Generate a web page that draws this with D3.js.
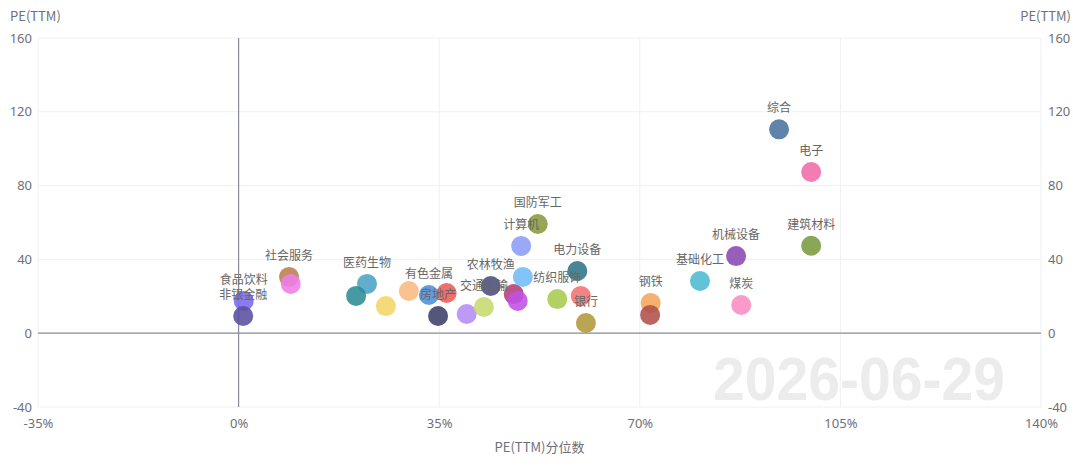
<!DOCTYPE html>
<html>
<head>
<meta charset="utf-8">
<script src="https://cdn.jsdelivr.net/npm/d3@7"></script>
<style>
  body { margin: 0; background: #fff; }
  svg { display: block; font-family: "Noto Sans CJK SC", "Noto Sans", sans-serif; }
</style>
</head>
<body>
<svg id="chart" width="1073" height="475"></svg>
<script>
// Industry points: PE(TTM) percentile (%) vs PE(TTM)
const industries = ['食品饮料', '非银金融', '社会服务', '美容护理', '医药生物', '公用事业', '轻工制造', '家用电器',
    '有色金属', '汽车', '房地产', '传媒', '交通运输', '农林牧渔', '商贸零售', '通信', '环保', '计算机',
    '国防军工', '纺织服饰', '电力设备', '建筑装饰', '银行', '钢铁', '石油石化', '基础化工', '机械设备',
    '煤炭', '综合', '电子', '建筑材料'];
const percentiles = [0.9, 0.8, 8.8, 9.1, 22.4, 20.5, 25.7, 29.7,
    33.2, 36.3, 34.8, 39.8, 42.8, 44.0, 48.0, 48.7, 49.6, 49.3,
    52.2, 55.6, 59.1, 59.7, 60.6, 71.9, 71.8, 80.5, 86.8,
    87.7, 94.3, 99.9, 99.9];
const peValues = [17.5, 9.3, 30.5, 26.7, 26.7, 20.2, 14.7, 22.9,
    20.7, 21.8, 9.3, 10.4, 14.2, 25.6, 21.2, 17.5, 30.5, 47.3,
    59.2, 18.5, 33.7, 20.2, 5.5, 16.4, 9.9, 28.3, 41.8,
    15.3, 110.5, 87.4, 47.4];
// labels that stay visible (the rest are hidden by overlap)
const labelled = ['食品饮料', '非银金融', '社会服务', '医药生物', '有色金属', '房地产', '交通运输', '农林牧渔',
    '计算机', '国防军工', '纺织服饰', '电力设备', '银行', '钢铁', '基础化工', '机械设备', '煤炭', '综合',
    '电子', '建筑材料'];
const colors = ['#7b68ee', '#5a4ea0', '#b8804a', '#f07ce8', '#4aa3c4', '#2e8b95', '#f2d565', '#f9b97e',
    '#4b8fd8', '#ee5a5a', '#3d3f6a', '#b38cf4', '#c6da6e', '#4a4c80', '#b03f78', '#c150e6', '#6fbcf7',
    '#8b9cf8', '#8a9a3f', '#a8c94e', '#2f7487', '#f47272', '#b09a3a', '#f5a65a', '#b0504c', '#4cbad2',
    '#8a48b0', '#f88cc0', '#4a72a0', '#f06aaa', '#7a9a40'];

const xTicks = [-35, 0, 35, 70, 105, 140];
const yTicks = [-40, 0, 40, 80, 120, 160];
const watermark = '2026-06-29';

const svg = d3.select('#chart');
const width = 1073, height = 475;
const margin = { top: 38, right: 32, bottom: 68, left: 38 };

const x = d3.scaleLinear().domain([-35, 140]).range([margin.left, width - margin.right]);
const y = d3.scaleLinear().domain([-40, 160]).range([height - margin.bottom, margin.top]);

// Watermark date
svg.append('text')
    .attr('x', 713)
    .attr('y', 400)
    .attr('textLength', 292)
    .attr('lengthAdjust', 'spacingAndGlyphs')
    .style('font-family', '"Liberation Sans", Arial, sans-serif')
    .style('font-weight', 'bold')
    .style('font-size', '62px')
    .style('fill', '#ececec')
    .text(watermark);

// Grid lines
svg.append('g')
    .selectAll('line')
    .data(yTicks)
    .enter().append('line')
    .attr('x1', x(-35)).attr('x2', x(140))
    .attr('y1', d => y(d)).attr('y2', d => y(d))
    .attr('stroke', '#eef0f4');

svg.append('g')
    .selectAll('line')
    .data(xTicks.filter(d => d !== 0))
    .enter().append('line')
    .attr('x1', d => x(d)).attr('x2', d => x(d))
    .attr('y1', y(-40)).attr('y2', y(160))
    .attr('stroke', '#eef0f4');

// Zero lines
svg.append('line')
    .attr('x1', x(-35)).attr('x2', x(140))
    .attr('y1', y(0)).attr('y2', y(0))
    .attr('stroke', '#8a8c99').attr('stroke-width', 1.2);
svg.append('line')
    .attr('x1', x(0)).attr('x2', x(0))
    .attr('y1', y(-40)).attr('y2', y(160))
    .attr('stroke', '#8a8c99').attr('stroke-width', 1.2);

// Axes (labels only), plain hyphen for negatives
const xAxis = svg.append('g')
    .attr('transform', `translate(0,${y(-40)})`)
    .call(d3.axisBottom(x).tickValues(xTicks).tickSize(0).tickPadding(12).tickFormat(d => String(d) + '%'));
const yLeft = svg.append('g')
    .attr('transform', `translate(${margin.left},0)`)
    .call(d3.axisLeft(y).tickValues(yTicks).tickSize(0).tickPadding(6).tickFormat(d => String(d)));
const yRight = svg.append('g')
    .attr('transform', `translate(${width - margin.right},0)`)
    .call(d3.axisRight(y).tickValues(yTicks).tickSize(0).tickPadding(7).tickFormat(d => String(d)));

[xAxis, yLeft, yRight].forEach(g => {
    g.select('.domain').remove();
    g.selectAll('text')
        .style('font-family', '"Noto Sans", sans-serif')
        .style('font-size', '13px')
        .style('fill', '#6e7079');
});

// Axis names
svg.append('text')
    .attr('x', 10).attr('y', 21)
    .style('font-size', '13px').style('fill', '#6e7079')
    .text('PE(TTM)');
svg.append('text')
    .attr('x', width - 2).attr('y', 21)
    .attr('text-anchor', 'end')
    .style('font-size', '13px').style('fill', '#6e7079')
    .text('PE(TTM)');
svg.append('text')
    .attr('x', (x(-35) + x(140)) / 2).attr('y', 452)
    .attr('text-anchor', 'middle')
    .style('font-size', '13px').style('fill', '#6e7079')
    .text('PE(TTM)分位数');

// Points
const points = industries.map((name, i) => ({
    name, pct: percentiles[i], pe: peValues[i], color: colors[i]
}));

svg.append('g')
    .selectAll('circle')
    .data(points)
    .enter().append('circle')
    .attr('cx', d => x(d.pct))
    .attr('cy', d => y(d.pe))
    .attr('r', 10)
    .attr('fill', d => d.color)
    .attr('fill-opacity', 0.88);

svg.append('g')
    .selectAll('text')
    .data(points.filter(d => labelled.includes(d.name)))
    .enter().append('text')
    .attr('x', d => x(d.pct))
    .attr('y', d => y(d.pe) - 17)
    .attr('text-anchor', 'middle')
    .style('font-size', '12px')
    .style('fill', '#666')
    .text(d => d.name);
</script>
</body>
</html>
